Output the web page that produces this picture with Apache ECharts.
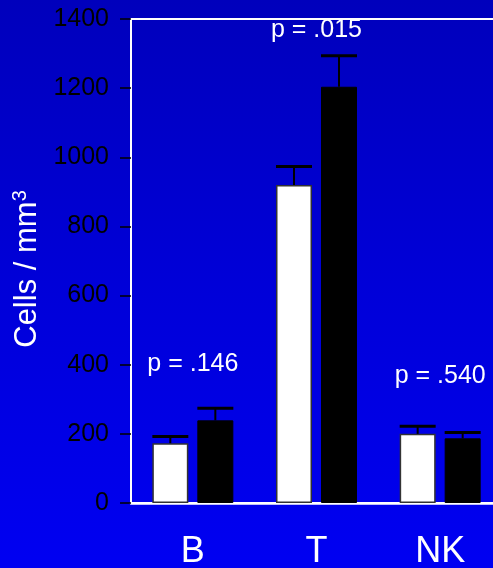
<!DOCTYPE html>
<html>
<head>
<meta charset="utf-8">
<script src="https://cdn.jsdelivr.net/npm/echarts@6/dist/echarts.min.js"></script>
<style>
  html, body { margin: 0; padding: 0; }
  body { width: 493px; height: 568px; background: linear-gradient(to bottom, #0000bc 0%, #0000d8 50%, #0000f2 100%); overflow: hidden; }
  #chart { width: 493px; height: 568px; }
</style>
</head>
<body>
<div id="chart"></div>
<script>
// Lymphocyte subsets (cells / mm3): controls (white) vs patients (black)
const categories = ['B', 'T', 'NK'];
const controlMean = [173, 920, 200];
const controlErr = [19, 53, 22];
const patientMean = [239, 1204, 187];
const patientErr = [35, 90, 17];
const pLabels = ['p = .146', 'p = .015', 'p = .540'];
const yTicks = { min: 0, max: 1400, interval: 200 };

// Annotation heights for the p-values (axis units)
const pLabelLevel = [402, 1369, 367];

const FONT = '"Liberation Sans", Arial, sans-serif';
const BAR_W = 36;
const BAR_GAP_PX = 9;
const HALF_STEP = (BAR_W + BAR_GAP_PX) / 2;

function errorItems(means, errs) {
  return means.map((m, i) => [i, m, m + errs[i]]);
}

function errorRenderer(shift) {
  return function (params, api) {
    const cat = api.value(0);
    const base = api.coord([cat, api.value(1)]);
    const tip = api.coord([cat, api.value(2)]);
    const x = base[0] + shift;
    return {
      type: 'group',
      children: [
        { type: 'line', shape: { x1: x, y1: base[1], x2: x, y2: tip[1] },
          style: { stroke: '#000', lineWidth: 2 } },
        { type: 'line', shape: { x1: x - BAR_W / 2, y1: tip[1], x2: x + BAR_W / 2, y2: tip[1] },
          style: { stroke: '#000', lineWidth: 3 } }
      ]
    };
  };
}

function pValueRenderer(params, api) {
  const pt = api.coord([api.value(0), api.value(1)]);
  return {
    type: 'text',
    x: pt[0], y: pt[1],
    style: {
      text: pLabels[params.dataIndex],
      fill: '#ffffff',
      font: '25px ' + FONT,
      align: 'center',
      verticalAlign: 'middle'
    }
  };
}

const chart = echarts.init(document.getElementById('chart'), null, { renderer: 'canvas' });

chart.setOption({
  backgroundColor: 'transparent',
  animation: false,
  textStyle: { fontFamily: FONT },
  grid: {
    left: 131, top: 19, bottom: 65, width: 371,
    outerBoundsMode: 'none',
    containLabel: false,
    show: true, borderColor: '#ffffff', borderWidth: 2, backgroundColor: 'transparent'
  },
  xAxis: {
    type: 'category',
    data: categories,
    axisLine: { lineStyle: { color: '#ffffff', width: 2.5 } },
    axisTick: { show: false },
    axisLabel: { color: '#ffffff', fontSize: 36, fontFamily: FONT, margin: 31 }
  },
  yAxis: {
    type: 'value',
    min: yTicks.min, max: yTicks.max, interval: yTicks.interval,
    name: '{n|Cells / mm}{s|3}',
    nameLocation: 'middle',
    nameRotate: 90,
    nameGap: 83,
    nameTextStyle: {
      color: '#ffffff', fontFamily: FONT,
      padding: [0, 16, 0, 0],
      rich: {
        n: { color: '#ffffff', fontSize: 31, lineHeight: 34, fontFamily: FONT },
        s: { color: '#ffffff', fontSize: 20, lineHeight: 34, verticalAlign: 'top', fontFamily: FONT }
      }
    },
    axisLine: { show: true, lineStyle: { color: '#ffffff', width: 2 } },
    axisTick: { show: true, length: 11, lineStyle: { color: '#000000', width: 1.5 } },
    axisLabel: {
      color: '#000000', fontSize: 25, fontFamily: FONT, margin: 22,
      formatter: (v) => String(v)
    },
    splitLine: { show: false }
  },
  series: [
    {
      name: 'Controls', type: 'bar', data: controlMean,
      barWidth: BAR_W, barGap: (BAR_GAP_PX / BAR_W * 100) + '%',
      itemStyle: { color: '#ffffff', borderColor: '#333333', borderWidth: 1.5 },
      z: 2
    },
    {
      name: 'Patients', type: 'bar', data: patientMean,
      barWidth: BAR_W,
      itemStyle: { color: '#000000', borderColor: '#000000', borderWidth: 1 },
      z: 2
    },
    {
      type: 'custom', name: 'Controls error', data: errorItems(controlMean, controlErr),
      renderItem: errorRenderer(-HALF_STEP), encode: { x: 0, y: [1, 2] }, z: 3, silent: true
    },
    {
      type: 'custom', name: 'Patients error', data: errorItems(patientMean, patientErr),
      renderItem: errorRenderer(HALF_STEP), encode: { x: 0, y: [1, 2] }, z: 3, silent: true
    },
    {
      type: 'custom', name: 'p-values',
      data: pLabels.map((t, i) => [i, pLabelLevel[i]]),
      renderItem: pValueRenderer, encode: { x: 0, y: 1 }, z: 4, silent: true
    }
  ]
});
</script>
</body>
</html>
